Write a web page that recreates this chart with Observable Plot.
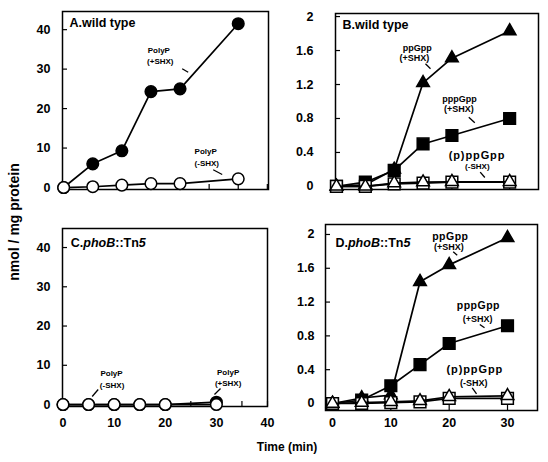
<!DOCTYPE html>
<html><head><meta charset="utf-8">
<script src="https://cdn.jsdelivr.net/npm/d3@7"></script>
<script src="https://cdn.jsdelivr.net/npm/@observablehq/plot@0.6"></script>
<style>
body{margin:0;background:#fff;}
#wrap{position:relative;width:548px;height:462px;background:#fff;font-family:"Liberation Sans",Arial,Helvetica,sans-serif;font-weight:bold;color:#000;overflow:hidden;}
#wrap svg{position:absolute;overflow:visible;}
.ytitle{position:absolute;left:14px;top:222px;transform:translate(-50%,-50%) rotate(-90deg);font-size:14px;white-space:nowrap;}
.xtitle{position:absolute;left:287px;top:447px;transform:translate(-50%,-50%);font-size:12px;white-space:nowrap;}
</style></head><body>
<div id="wrap"><div class="ytitle">nmol / mg protein</div><div class="xtitle">Time (min)</div></div>
<script>
// ---- data ----
const times = [0, 5, 10, 15, 20, 30];

const polyPPlusA  = [0, 6, 9.3, 24.3, 25, 41.5];
const polyPMinusA = [0, 0.2, 0.6, 1, 1, 2.2];

const ppGppPlusB   = [0, 0.02, 0.2, 1.22, 1.51, 1.83];
const pppGppPlusB  = [0, 0.05, 0.19, 0.5, 0.6, 0.8];
const ppGppMinusB  = [0, 0, 0.04, 0.05, 0.055, 0.055];
const pppGppMinusB = [0, 0, 0.03, 0.04, 0.05, 0.05];

const polyPPlusC  = [0, 0, 0, 0, 0, 0.6];
const polyPMinusC = [0, 0, 0, 0, 0, 0];

const ppGppPlusD   = [0, 0.065, 0.1, 1.44, 1.64, 1.96];
const pppGppPlusD  = [0, 0.04, 0.21, 0.46, 0.71, 0.92];
const ppGppMinusD  = [0, 0.01, 0.02, 0.03, 0.08, 0.09];
const pppGppMinusD = [0, 0, 0.01, 0.02, 0.06, 0.06];

const polyPYTicks = [0, 10, 20, 30, 40];
const nucYTicks = [0, 0.4, 0.8, 1.2, 1.6, 2];
const xTicksA = [0, 5, 10, 15, 20, 25, 30, 35];
const xTicksC = [0, 5, 10, 15, 20, 25, 30, 35, 40];
const xLabelsC = [0, 10, 20, 30, 40];
const xTicksD = [0, 10, 20, 30];
const xLabelsD = [0, 10, 20, 30];

const titleA = [["A.wild type", false]];
const titleB = [["B.wild type", false]];
const titleC = [["C.", false], ["phoB", true], ["::Tn", false], ["5", true]];
const titleD = [["D.", false], ["phoB", true], ["::Tn", false], ["5", true]];

// annotation labels (anchored in data units: time, value)
const notesA = [
  {t: 16.35, v: 34.7, s: "PolyP", k: "s"}, {t: 16.6, v: 32.0, s: "(+SHX)", k: "s"},
  {t: 24.4, v: 9.1, s: "PolyP", k: "s"}, {t: 24.6, v: 6.0, s: "(-SHX)", k: "s"}
];
const leadersA = [
  {t1: 20.37, v1: 30.1, t2: 21.4, v2: 29.2},
  {t1: 25.7, v1: 4.5, t2: 27.24, v2: 3.3}
];
const notesB = [
  {t: 14.0, v: 1.63, s: "ppGpp", k: "m"}, {t: 13.5, v: 1.51, s: "(+SHX)", k: "m"},
  {t: 21.3, v: 1.024, s: "pppGpp", k: "m"}, {t: 21.2, v: 0.906, s: "(+SHX)", k: "m"},
  {t: 24.35, v: 0.37, s: "(p)ppGpp", k: "xl"}, {t: 24.4, v: 0.235, s: "(-SHX)", k: "s"}
];
const leadersB = [
  {t1: 15.42, v1: 1.444, t2: 16.29, v2: 1.385},
  {t1: 22.92, v1: 0.815, t2: 23.96, v2: 0.749},
  {t1: 24.9, v1: 0.168, t2: 25.7, v2: 0.105}
];
const notesC = [
  {t: 9.49, v: 7.9, s: "PolyP", k: "s"}, {t: 9.6, v: 4.85, s: "(-SHX)", k: "s"},
  {t: 32.3, v: 8.2, s: "PolyP", k: "s"}, {t: 32.3, v: 5.4, s: "(+SHX)", k: "s"}
];
const leadersC = [
  {t1: 6.88, v1: 3.83, t2: 5.71, v2: 2.05},
  {t1: 30.81, v1: 4.09, t2: 29.63, v2: 2.56}
];
const notesD = [
  {t: 20.2, v: 1.976, s: "ppGpp", k: "l"}, {t: 19.94, v: 1.846, s: "(+SHX)", k: "m"},
  {t: 25.0, v: 1.156, s: "pppGpp", k: "l"}, {t: 24.89, v: 0.997, s: "(+SHX)", k: "m"},
  {t: 24.4, v: 0.405, s: "(p)ppGpp", k: "xl"}, {t: 24.2, v: 0.242, s: "(-SHX)", k: "m"}
];
const leadersD = [
  {t1: 20.69, v1: 1.795, t2: 21.38, v2: 1.755},
  {t1: 25.25, v1: 0.935, t2: 26.06, v2: 0.896},
  {t1: 23.95, v1: 0.186, t2: 24.69, v2: 0.115}
];

// ---- rendering ----
const kinds = {
  s: {fontSize: 8, spacing: 0},
  m: {fontSize: 9, spacing: 0},
  l: {fontSize: 10.5, spacing: 0.5},
  xl: {fontSize: 11, spacing: 0.9}
};
const wrap = document.getElementById("wrap");
const FONT = "'Liberation Sans', Arial, Helvetica, sans-serif";

function panel(cfg) {
  const marks = [
    Plot.frame({stroke: "black", strokeWidth: 1.5}),
    Plot.axisY({ticks: cfg.yTicks, tickSize: 5, dx: 5, tickFormat: () => "", label: null, strokeWidth: 1.2}),
    Plot.axisY({ticks: cfg.yTicks, tickSize: 0, tickPadding: cfg.yPad, tickFormat: d => String(d), fontSize: 12.5, fontWeight: "bold", label: null}),
    Plot.axisX({ticks: cfg.xTicks, tickSize: 5, dy: -5, tickFormat: () => "", label: null, strokeWidth: 1.2})
  ];
  if (cfg.xLabels) marks.push(Plot.axisX({ticks: cfg.xLabels, tickSize: 0, tickPadding: cfg.xPad, tickFormat: d => String(d), fontSize: 12.5, fontWeight: "bold", label: null}));
  for (const s of cfg.series) {
    const data = times.map((t, i) => ({t, v: s.values[i]}));
    marks.push(Plot.line(data, {x: "t", y: "v", stroke: "black", strokeWidth: 1.7}));
    marks.push(Plot.dot(data, {x: "t", y: "v", symbol: s.symbol, r: s.r, fill: s.fill, stroke: "black", strokeWidth: 1.5}));
  }
  marks.push(Plot.link(cfg.leaders, {x1: "t1", y1: "v1", x2: "t2", y2: "v2", stroke: "black", strokeWidth: 1.3}));
  for (const k of Object.keys(kinds)) {
    const sub = cfg.notes.filter(d => d.k === k);
    if (sub.length) marks.push(Plot.text(sub, {x: "t", y: "v", text: "s", fontSize: kinds[k].fontSize, fontWeight: "bold", fill: "black"}));
  }
  const titleStr = cfg.title.map(d => d[0]).join("");
  marks.push(Plot.text([cfg.titlePos], {x: "t", y: "v", text: () => titleStr, textAnchor: "start", fontSize: 12.5, fontWeight: "bold", fill: "black"}));

  const svg = Plot.plot({
    width: cfg.width, height: cfg.height,
    marginLeft: cfg.m[0], marginRight: cfg.m[1], marginTop: cfg.m[2], marginBottom: cfg.m[3],
    x: {domain: cfg.xDomain},
    y: {domain: cfg.yDomain},
    style: {fontFamily: FONT, fontWeight: "bold", color: "black", background: "transparent", overflow: "visible"},
    marks
  });
  svg.style.left = cfg.left + "px";
  svg.style.top = cfg.top + "px";
  const spaced = new Map(cfg.notes.filter(d => kinds[d.k].spacing).map(d => [d.s, kinds[d.k].spacing]));
  d3.select(svg).selectAll("text").each(function() {
    const txt = this.textContent;
    if (spaced.has(txt)) this.setAttribute("letter-spacing", spaced.get(txt));
    if (txt === titleStr) {
      const el = d3.select(this);
      el.text(null);
      for (const [s, it] of cfg.title) el.append("tspan").attr("font-style", it ? "italic" : null).text(s);
    }
  });
  wrap.appendChild(svg);
}

const filled = (values, symbol, r) => ({values, symbol, r, fill: "black"});
const open = (values, symbol, r) => ({values, symbol, r, fill: "white"});

panel({
  left: 0, top: 0, width: 275, height: 200, m: [62, 7, 11, 11],
  xDomain: [-0.2, 35.2], yDomain: [-0.5, 44.6],
  yTicks: polyPYTicks, yPad: 12, xTicks: xTicksA,
  series: [filled(polyPPlusA, "circle", 5.8), open(polyPMinusA, "circle", 5.8)],
  notes: notesA, leaders: leadersA, title: titleA, titlePos: {t: 1.0, v: 41.7}
});
panel({
  left: 270, top: 0, width: 278, height: 200, m: [65, 10, 13, 11],
  xDomain: [-0.17, 35], yDomain: [-0.036, 2.036],
  yTicks: nucYTicks, yPad: 22, xTicks: xTicksD,
  series: [filled(pppGppPlusB, "square", 6.6), filled(ppGppPlusB, "triangle", 4.7),
           open(pppGppMinusB, "square", 6.6), open(ppGppMinusB, "triangle", 4.7)],
  notes: notesB, leaders: leadersB, title: titleB, titlePos: {t: 1.04, v: 1.895}
});
panel({
  left: 0, top: 215, width: 275, height: 225, m: [62, 8, 13, 34],
  xDomain: [-0.1, 40], yDomain: [-0.5, 44.85],
  yTicks: polyPYTicks, yPad: 12, xTicks: xTicksC, xLabels: xLabelsC, xPad: 12,
  series: [filled(polyPPlusC, "circle", 5.8), open(polyPMinusC, "circle", 5.8)],
  notes: notesC, leaders: leadersC, title: titleC, titlePos: {t: 1.52, v: 41.1}
});
panel({
  left: 270, top: 215, width: 278, height: 225, m: [55, 11, 9, 30],
  xDomain: [-1.2, 35.14], yDomain: [-0.083, 2.118],
  yTicks: nucYTicks, yPad: 11, xTicks: xTicksD, xLabels: xLabelsD, xPad: 8,
  series: [filled(pppGppPlusD, "square", 6.6), filled(ppGppPlusD, "triangle", 4.7),
           open(pppGppMinusD, "square", 6.6), open(ppGppMinusD, "triangle", 4.7)],
  notes: notesD, leaders: leadersD, title: titleD, titlePos: {t: 0.51, v: 1.905}
});
</script>
</body></html>
